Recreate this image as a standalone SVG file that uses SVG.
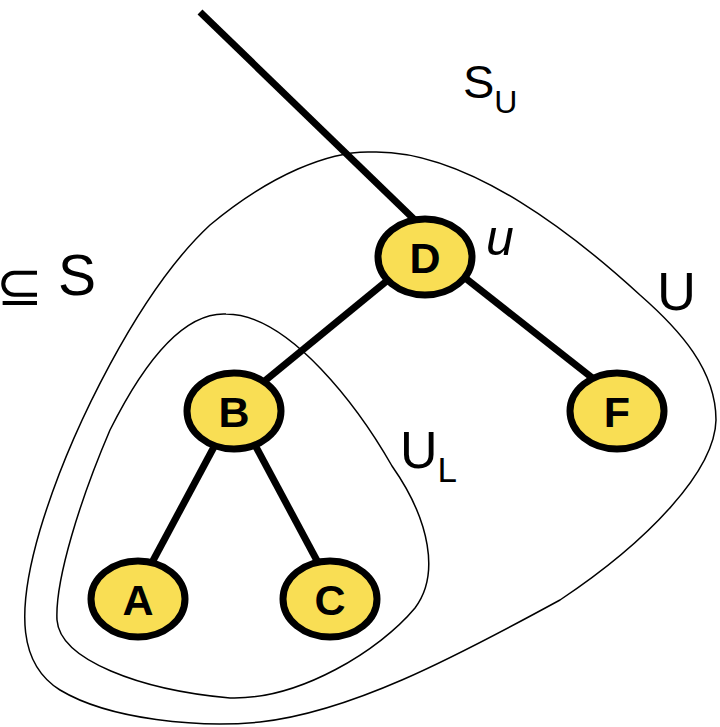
<svg xmlns="http://www.w3.org/2000/svg" width="720" height="727" viewBox="0 0 720 727">
<style>
.blob{fill:none;stroke:#000;stroke-width:1.5}
.edge{stroke:#000;stroke-width:7;stroke-linecap:butt}
.node ellipse{fill:#F9DE54;stroke:#000;stroke-width:7}
.node text{font-family:"Liberation Sans",Arial,sans-serif;font-weight:bold;font-size:43px;text-anchor:middle;fill:#000}
.lbl{font-family:"Liberation Sans",Arial,sans-serif;fill:#000}
</style>
<rect width="720" height="727" fill="#fff"/>
<g id="sets">
<path class="blob" d="M373,152 C330,150 270,175 210,225 C140,290 70,430 40,530 C15,615 20,665 60,690 C110,720 200,728 260,722 C350,712 450,660 560,600 C650,540 715,470 716,420 C716,370 680,330 640,295 C580,240 470,150 373,152 Z"/>
<path class="blob" d="M226,314 C180,312 140,370 110,430 C80,500 55,580 57,620 C60,660 140,690 230,698 C300,700 380,650 415,608 C440,575 430,520 392,466 C360,410 290,314 226,314 Z"/>
</g>
<g id="connectors">
<line class="edge" x1="200" y1="12" x2="420" y2="225"/>
<line class="edge" x1="405" y1="266" x2="250" y2="393"/>
<line class="edge" x1="450" y1="266" x2="600" y2="384"/>
<line class="edge" x1="222" y1="432" x2="148" y2="570"/>
<line class="edge" x1="248" y1="432" x2="322" y2="570"/>
</g>
<g id="node-D" class="node"><ellipse cx="425" cy="257" rx="47" ry="38"/><text x="425" y="273">D</text></g>
<g id="node-B" class="node"><ellipse cx="234" cy="411" rx="47" ry="38"/><text x="234" y="427">B</text></g>
<g id="node-F" class="node"><ellipse cx="617" cy="411" rx="47" ry="38"/><text x="617" y="427">F</text></g>
<g id="node-A" class="node"><ellipse cx="138" cy="599" rx="47" ry="38"/><text x="138" y="615">A</text></g>
<g id="node-C" class="node"><ellipse cx="330" cy="599" rx="47" ry="38"/><text x="330" y="615">C</text></g>
<g id="labels">
<text class="lbl" x="463" y="98" font-size="47">S<tspan font-size="32" dy="15">U</tspan></text>
<text class="lbl" x="486" y="255" font-size="50" font-style="italic">u</text>
<text class="lbl" x="657" y="310" font-size="54">U</text>
<text class="lbl" x="400" y="468" font-size="52">U<tspan font-size="35" dy="14">L</tspan></text>
<text class="lbl" x="43" y="305" font-size="56" text-anchor="end" font-family="'DejaVu Sans',sans-serif">⊆</text>
<text class="lbl" x="58" y="295" font-size="57">S</text>
</g>
</svg>
